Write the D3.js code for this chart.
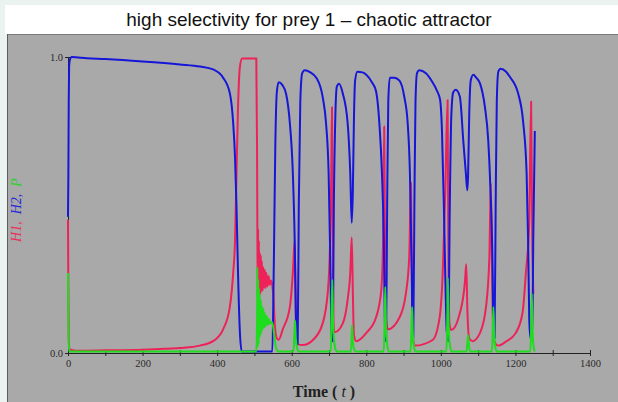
<!DOCTYPE html>
<html>
<head>
<meta charset="utf-8">
<script src="https://cdn.jsdelivr.net/npm/d3@7/dist/d3.min.js"></script>
<style>
  html, body { margin: 0; padding: 0; background: #eaf3ef; }
  svg { display: block; }
</style>
</head>
<body>
<svg id="chart" width="618" height="402"></svg>
<script>
// Time series of the two prey (H1, H2) and the predator (P): [t, value]
const h1Series = [
  [0,0.45],[1,0.2],[2,0.05],[4,0.012],[20,0.008],[100,0.009],[200,0.011],[260,0.014],[300,0.017],
  [354,0.025],[389,0.04],[416,0.08],[434,0.155],[443,0.27],[448,0.38],[452,0.61],[456,0.83],
  [461,0.966],[467,0.995],[505,0.995],[507,0.7],[508,0.38],[509,0.2],[510,0.42],[511,0.17],
  [512,0.38],[513,0.19],[514,0.34],[516,0.2],[517,0.33],[519,0.21],[520,0.31],[522,0.21],
  [524,0.29],[526,0.22],[528,0.28],[530,0.22],[532,0.27],[535,0.225],[538,0.26],[541,0.23],
  [544,0.245],[547,0.235],[551,0.19],[555,0.09],[560,0.05],[565,0.045],[576,0.08],[595,0.155],
  [603,0.27],[608,0.38],[610,0.2],[612,0.05],[615,0.03],[630,0.027],[657,0.044],[683,0.1],
  [697,0.21],[703,0.38],[706,0.6],[708,0.83],[710,0.4],[712,0.1],[715,0.07],[737,0.1],
  [750,0.18],[757,0.27],[761,0.39],[764,0.2],[767,0.06],[773,0.04],[800,0.068],[826,0.12],
  [840,0.21],[845,0.38],[848,0.765],[850,0.4],[853,0.12],[858,0.08],[889,0.12],[906,0.2],
  [915,0.32],[920,0.574],[922,0.3],[925,0.05],[930,0.025],[978,0.044],[997,0.123],[1005,0.27],
  [1012,0.55],[1018,0.855],[1020,0.4],[1023,0.1],[1028,0.078],[1051,0.135],[1065,0.247],
  [1068,0.3],[1071,0.15],[1076,0.05],[1085,0.04],[1105,0.068],[1121,0.155],[1130,0.32],
  [1134,0.574],[1137,0.3],[1141,0.05],[1153,0.025],[1174,0.038],[1201,0.068],[1219,0.135],
  [1228,0.27],[1237,0.44],[1242,0.85],[1245,0.4],[1248,0.2]
];

const h2Series = [
  [0,0.46],[1,0.6],[2,0.85],[3,0.97],[5,0.99],[10,1.0],[50,0.996],[100,0.993],[200,0.985],
  [300,0.975],[354,0.968],[389,0.958],[416,0.93],[434,0.878],[443,0.777],[448,0.66],[452,0.49],
  [456,0.27],[461,0.07],[466,0.005],[548,0.005],[552,0.3],[556,0.7],[560,0.88],[565,0.915],
  [575,0.905],[585,0.875],[595,0.777],[603,0.608],[608,0.38],[611,0.15],[613,0.03],[616,0.03],
  [619,0.5],[623,0.85],[628,0.945],[635,0.955],[650,0.948],[666,0.93],[683,0.865],[692,0.777],
  [699,0.608],[704,0.27],[707,0.06],[710,0.04],[713,0.5],[717,0.8],[721,0.9],[727,0.91],
  [737,0.877],[750,0.777],[757,0.608],[761,0.44],[764,0.55],[767,0.8],[770,0.92],[776,0.95],
  [790,0.948],[800,0.94],[815,0.915],[826,0.885],[835,0.777],[842,0.608],[847,0.38],[850,0.1],
  [853,0.04],[856,0.5],[859,0.85],[863,0.93],[875,0.93],[889,0.92],[902,0.865],[911,0.777],
  [917,0.608],[922,0.27],[924,0.07],[926,0.05],[929,0.5],[932,0.85],[936,0.945],[942,0.955],
  [960,0.945],[975,0.92],[990,0.885],[998,0.855],[1003,0.75],[1008,0.5],[1012,0.25],
  [1016,0.07],[1020,0.04],[1024,0.5],[1028,0.8],[1033,0.88],[1040,0.889],[1051,0.866],
  [1060,0.72],[1067,0.608],[1071,0.55],[1073,0.6],[1076,0.8],[1080,0.92],[1087,0.94],
  [1095,0.93],[1105,0.911],[1118,0.832],[1127,0.72],[1133,0.55],[1139,0.27],[1141,0.07],
  [1144,0.05],[1147,0.5],[1150,0.85],[1154,0.95],[1160,0.96],[1175,0.95],[1185,0.933],
  [1207,0.878],[1221,0.777],[1230,0.608],[1234,0.38],[1237,0.12],[1240,0.05],[1245,0.05],
  [1248,0.4],[1252,0.75]
];

const pSeries = [
  [0,0.27],[1,0.1],[2,0.03],[4,0.005],[505,0.005],[507,0.1],[508,0.29],[509,0.02],[510,0.25],
  [511,0.03],[512,0.22],[513,0.05],[514,0.2],[516,0.06],[517,0.18],[519,0.07],[520,0.16],
  [522,0.08],[524,0.15],[526,0.085],[528,0.135],[530,0.09],[533,0.125],[536,0.095],[539,0.115],
  [542,0.1],[546,0.105],[550,0.09],[553,0.06],[556,0.03],[560,0.01],[565,0.005],[605,0.005],
  [607,0.06],[609,0.11],[611,0.05],[614,0.02],[618,0.005],[705,0.005],[707,0.15],[709,0.247],
  [711,0.1],[714,0.04],[718,0.01],[722,0.005],[759,0.005],[762,0.095],[764,0.04],[768,0.01],
  [772,0.005],[847,0.005],[849,0.1],[851,0.223],[853,0.08],[856,0.03],[860,0.005],[919,0.005],
  [921,0.08],[923,0.155],[925,0.06],[928,0.02],[932,0.005],[1015,0.005],[1017,0.1],[1019,0.253],
  [1021,0.09],[1024,0.03],[1028,0.005],[1069,0.005],[1071,0.03],[1073,0.06],[1075,0.03],
  [1079,0.005],[1137,0.005],[1139,0.07],[1141,0.155],[1143,0.06],[1146,0.02],[1150,0.005],
  [1240,0.005],[1242,0.08],[1244,0.2],[1246,0.07],[1249,0.02],[1252,0.005]
];

const xTickValues = [0,100,200,300,400,500,600,700,800,900,1000,1100,1200,1300,1400];
const yTickValues = [0, 1];

const svg = d3.select("#chart");
const W = 618, H = 402;

// Page, title band and grey plotting panel
svg.append("rect").attr("width", W).attr("height", H).attr("fill", "#eaf3ef");
svg.append("rect").attr("x", 5).attr("y", 5).attr("width", W - 5).attr("height", 29).attr("fill", "#ffffff");
svg.append("rect").attr("x", 7).attr("y", 34).attr("width", W - 7).attr("height", H - 34).attr("fill", "#a9a9a9");
svg.append("line").attr("x1", 7).attr("x2", W).attr("y1", 34.5).attr("y2", 34.5).attr("stroke", "#7a7a7a").attr("stroke-width", 1);
svg.append("line").attr("x1", 7.5).attr("x2", 7.5).attr("y1", 34).attr("y2", H).attr("stroke", "#5c5c5c").attr("stroke-width", 1);

svg.append("text")
  .attr("x", 309).attr("y", 26)
  .attr("text-anchor", "middle")
  .attr("font-family", "Liberation Sans, Arial, sans-serif")
  .attr("font-size", 19)
  .attr("fill", "#111")
  .text("high selectivity for prey 1 \u2013 chaotic attractor");

const x = d3.scaleLinear().domain([0, 1400]).range([68, 590]);
const y = d3.scaleLinear().domain([0, 1]).range([353, 57]);

const tickFont = "Liberation Serif, Times New Roman, serif";

// X axis with ticks crossing the line; labels every 200
const xAxis = d3.axisBottom(x)
  .tickValues(xTickValues)
  .tickSizeInner(3).tickSizeOuter(0).tickPadding(3)
  .tickFormat(d => d % 200 === 0 ? String(d) : "");
const gx = svg.append("g").attr("transform", `translate(0,${y(0)})`).call(xAxis);
gx.select(".domain").attr("stroke", "#222").attr("stroke-width", 1);
gx.selectAll(".tick line").attr("y1", -3).attr("y2", 3).attr("stroke", "#222");
gx.selectAll(".tick text").attr("font-family", tickFont).attr("font-size", 10.5).attr("fill", "#2a2a2a").attr("dy", "0.75em");

// Y axis with labels only at the ends
const yAxis = d3.axisLeft(y)
  .tickValues(yTickValues)
  .tickSizeInner(3).tickSizeOuter(0).tickPadding(2)
  .tickFormat(d3.format(".1f"));
const gy = svg.append("g").attr("transform", `translate(${x(0)},0)`).call(yAxis);
gy.select(".domain").attr("stroke", "#222").attr("stroke-width", 1);
gy.selectAll(".tick line").attr("x1", -3).attr("x2", 3).attr("stroke", "#222");
gy.selectAll(".tick text").attr("font-family", tickFont).attr("font-size", 10.5).attr("fill", "#2a2a2a");

// Series lines
const line = d3.line().x(d => x(d[0])).y(d => y(d[1])).curve(d3.curveMonotoneX);
const series = [
  { data: h1Series, color: "#ee2258" },
  { data: h2Series, color: "#1616d8" },
  { data: pSeries,  color: "#1fdc1f" }
];
svg.append("g").selectAll("path").data(series).join("path")
  .attr("d", s => line(s.data))
  .attr("fill", "none")
  .attr("stroke", s => s.color)
  .attr("stroke-width", 2)
  .attr("stroke-linejoin", "round");

// Axis titles
const xt = svg.append("text")
  .attr("x", 324).attr("y", 397)
  .attr("text-anchor", "middle")
  .attr("font-family", tickFont)
  .attr("font-size", 16)
  .attr("font-weight", "bold")
  .attr("fill", "#222");
xt.append("tspan").text("Time ( ");
xt.append("tspan").attr("font-style", "italic").attr("font-weight", "normal").text("t");
xt.append("tspan").text(" )");

const yt = svg.append("text")
  .attr("transform", "translate(21,210) rotate(-90)")
  .attr("text-anchor", "middle")
  .attr("font-family", tickFont)
  .attr("font-style", "italic")
  .attr("font-size", 14);
yt.append("tspan").attr("fill", "#e8305a").text("H1,\u00a0\u00a0");
yt.append("tspan").attr("fill", "#2a2ad8").text("H2,\u00a0\u00a0");
yt.append("tspan").attr("fill", "#2fd02f").text("P");
</script>
</body>
</html>
